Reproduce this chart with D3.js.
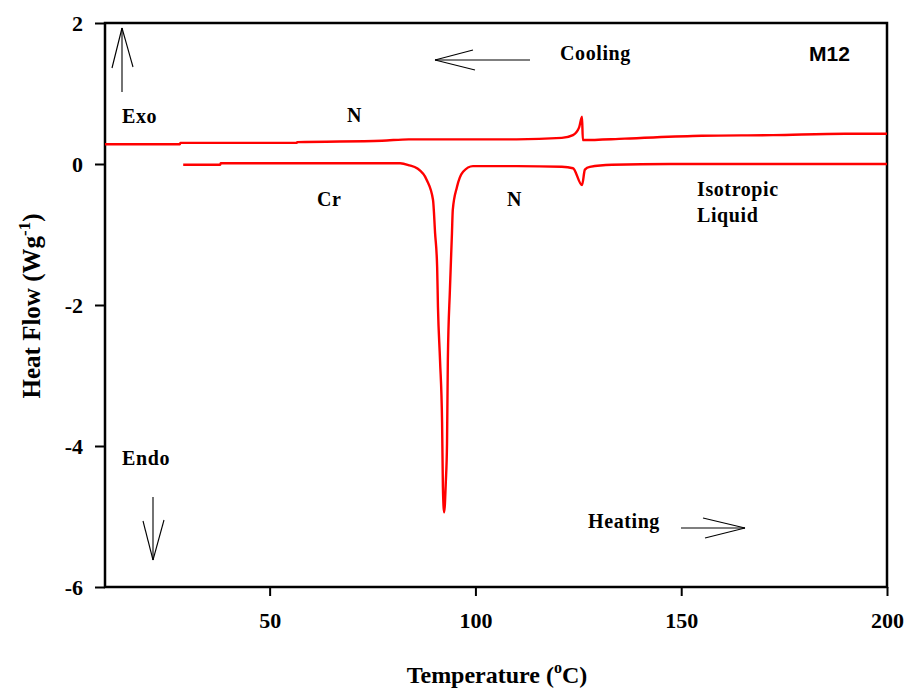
<!DOCTYPE html>
<html>
<head>
<meta charset="utf-8">
<script src="https://cdn.jsdelivr.net/npm/d3@7"></script>
<style>
    body { margin: 0; background: #fff; }
    text { font-family: "Liberation Serif", "DejaVu Serif", serif; font-weight: bold; fill: #000; }
</style>
</head>
<body>
<svg id="chart" width="909" height="691"></svg>
<script>
'use strict';

// heating scan (lower trace)
var heatTemp = [29, 38, 38.1, 60, 81.7, 84, 85.8, 88.2, 89.7, 90.2, 90.7, 90.9, 91.4, 91.9, 92.1, 92.4,
    92.8, 93.1, 93.3, 93.8, 94.3, 94.5, 95.5, 97.0, 99.4, 110, 121, 123.7, 125.9, 126.6, 127.8, 133.2, 147.3, 170, 200];
var heatFlow = [-0.01, -0.01, 0.01, 0.01, 0.01, -0.02, -0.06, -0.23, -0.51, -0.98, -1.46, -2.03, -2.78, -3.67, -4.58, -4.94,
    -4.52, -3.96, -2.78, -1.79, -0.98, -0.65, -0.33, -0.11, -0.03, -0.03, -0.04, -0.06, -0.30, -0.08, -0.04, -0.01, 0.0, 0.0, 0.0];

// cooling scan (upper trace)
var coolTemp = [10, 28.2, 28.3, 56.6, 56.7, 77.3, 83.8, 110, 121.0, 123.7, 125.2, 125.9, 126.1, 136.3, 155, 172.3, 189.8, 200];
var coolFlow = [0.28, 0.28, 0.30, 0.30, 0.31, 0.33, 0.35, 0.35, 0.37, 0.41, 0.52, 0.67, 0.34, 0.36, 0.40, 0.41, 0.43, 0.43];

var xTicks = [50, 100, 150, 200];
var yTicks = [2, 0, -2, -4, -6];

var svg = d3.select('#chart');
var x = d3.scaleLinear().domain([10, 200]).range([105, 887]);
var y = d3.scaleLinear().domain([-6, 2]).range([587, 23]);

function zip(t, q) {
    return t.map(function(d, i) { return {t: d, q: q[i]}; });
}

var line = d3.line()
    .curve(d3.curveMonotoneX)
    .x(function(d) { return x(d.t); })
    .y(function(d) { return y(d.q); });

// frame
svg.append('rect')
    .attr('x', x(10)).attr('y', y(2))
    .attr('width', x(200) - x(10)).attr('height', y(-6) - y(2))
    .style('fill', 'none').style('stroke', '#000').style('stroke-width', 2.5);

var xAxis = svg.append('g')
    .attr('transform', 'translate(0,' + y(-6) + ')')
    .call(d3.axisBottom(x).tickValues(xTicks).tickFormat(function(d) { return String(d); })
        .tickSize(9).tickPadding(16));
var yAxis = svg.append('g')
    .attr('transform', 'translate(' + x(10) + ',0)')
    .call(d3.axisLeft(y).tickValues(yTicks).tickFormat(function(d) { return String(d); })
        .tickSize(10).tickPadding(12));

[xAxis, yAxis].forEach(function(a) {
    a.select('.domain').remove();
    a.selectAll('line').style('stroke', '#000').style('stroke-width', 2);
    a.selectAll('text')
        .style('font-family', '"Liberation Serif", serif')
        .style('font-weight', 'bold')
        .style('font-size', '22px');
});

// traces
svg.append('path')
    .datum(zip(coolTemp, coolFlow))
    .attr('d', line)
    .style('fill', 'none').style('stroke', '#ff0000').style('stroke-width', 2.4);
svg.append('path')
    .datum(zip(heatTemp, heatFlow))
    .attr('d', line)
    .style('fill', 'none').style('stroke', '#ff0000').style('stroke-width', 2.4);

// axis titles
var yt = svg.append('text')
    .attr('transform', 'translate(40,306) rotate(-90)')
    .attr('text-anchor', 'middle')
    .style('font-size', '25px');
yt.append('tspan').text('Heat Flow (Wg');
yt.append('tspan').attr('dy', -10).style('font-size', '17px').text('-1');
yt.append('tspan').attr('dy', 10).text(')');

var xt = svg.append('text')
    .attr('x', 497).attr('y', 683)
    .attr('text-anchor', 'middle')
    .style('font-size', '24px');
xt.append('tspan').text('Temperature (');
xt.append('tspan').attr('dy', -10).style('font-size', '16px').text('o');
xt.append('tspan').attr('dy', 10).text('C)');

// labels
var labels = [
    {s: 'Exo', x: 122, y: 123},
    {s: 'N', x: 347, y: 122},
    {s: 'Cooling', x: 560, y: 60},
    {s: 'Cr', x: 317, y: 206},
    {s: 'N', x: 507, y: 206},
    {s: 'Isotropic', x: 697, y: 196},
    {s: 'Liquid', x: 697, y: 222},
    {s: 'Endo', x: 122, y: 465},
    {s: 'Heating', x: 588, y: 528}
];
svg.selectAll('text.note').data(labels).enter()
    .append('text')
    .attr('class', 'note')
    .attr('x', function(d) { return d.x; })
    .attr('y', function(d) { return d.y; })
    .style('font-size', '20px')
    .style('letter-spacing', '0.6px')
    .text(function(d) { return d.s; });

svg.append('text')
    .attr('x', 809).attr('y', 61)
    .style('font-family', '"Liberation Sans", Arial, sans-serif')
    .style('font-size', '21px')
    .text('M12');

// arrows: shaft + two barbs
var arrows = [
    {x1: 122, y1: 92, x2: 122, y2: 28, b1: [112, 68], b2: [133, 67]},
    {x1: 530, y1: 60, x2: 435, y2: 60, b1: [473, 50], b2: [475, 70]},
    {x1: 153, y1: 497, x2: 153, y2: 560, b1: [143, 521], b2: [164, 520]},
    {x1: 681, y1: 528, x2: 745, y2: 528, b1: [703, 518], b2: [705, 538]}
];
arrows.forEach(function(a) {
    var g = svg.append('g').style('stroke', '#000').style('stroke-width', 1.1).style('fill', 'none');
    g.append('line').attr('x1', a.x1).attr('y1', a.y1).attr('x2', a.x2).attr('y2', a.y2);
    g.append('line').attr('x1', a.b1[0]).attr('y1', a.b1[1]).attr('x2', a.x2).attr('y2', a.y2);
    g.append('line').attr('x1', a.b2[0]).attr('y1', a.b2[1]).attr('x2', a.x2).attr('y2', a.y2);
});
</script>
</body>
</html>
